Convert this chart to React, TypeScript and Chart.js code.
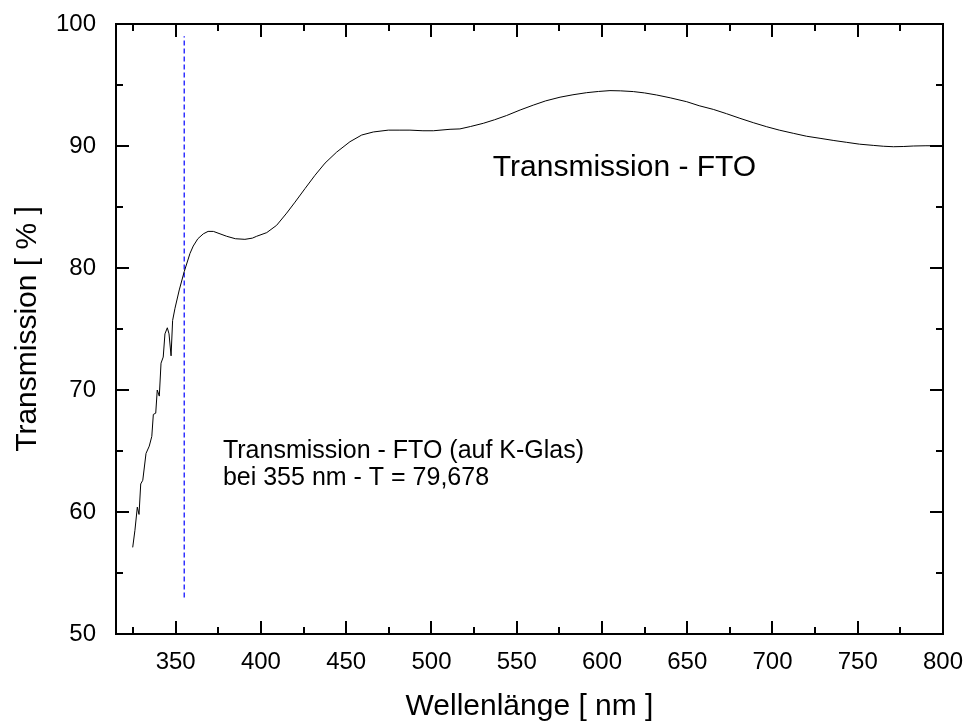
import React, { useEffect, useRef } from 'react';
import { Chart, registerables } from 'chart.js';

Chart.register(...registerables);

// ---- data ----
const wavelengths = [
  324.8, 326.1, 327.5, 328.5, 329.5, 330.7, 332.6, 334.5, 336.0, 336.9,
  338.3, 339.2, 340.4, 341.4, 342.7, 343.7, 345.1, 346.1, 347.3, 348.2,
  349.6, 352.1, 355.0, 358.4, 360.3, 363.0, 366.2, 369.0, 372.1, 376.0,
  379.9, 385.0, 390.6, 395.0, 397.5, 403.4, 409.2, 415.1, 420.0, 425.8,
  431.7, 437.6, 444.4, 452.2, 459.1, 465.9, 474.7, 481.5, 487.4, 495.0,
  501.1, 510.9, 516.7, 523.0, 530.4, 537.0, 544.1, 552.0, 559.7, 567.0,
  575.4, 583.0, 591.0, 598.0, 604.7, 611.0, 618.4, 625.0, 632.1, 640.0,
  649.7, 657.0, 665.3, 673.0, 680.9, 689.0, 696.6, 704.0, 712.2, 720.0,
  727.9, 736.0, 743.5, 751.0, 759.1, 765.0, 770.9, 777.0, 782.6, 790.0,
  798.4, 800.0,
];
const transmission = [
  57.1, 58.5, 60.4, 59.8, 62.3, 62.6, 64.8, 65.4, 66.2, 68.0,
  68.1, 70.0, 69.5, 72.2, 72.7, 74.6, 75.1, 74.6, 72.8, 75.7,
  76.7, 78.2, 79.7, 81.2, 81.8, 82.4, 82.8, 83.0, 83.0, 82.8,
  82.6, 82.4, 82.35, 82.45, 82.6, 82.9, 83.5, 84.5, 85.4, 86.5,
  87.6, 88.6, 89.5, 90.35, 90.9, 91.15, 91.3, 91.3, 91.3, 91.25,
  91.25, 91.37, 91.4, 91.6, 91.86, 92.15, 92.5, 92.95, 93.35, 93.7,
  94.0, 94.2, 94.37, 94.47, 94.54, 94.52, 94.46, 94.35, 94.18, 93.95,
  93.63, 93.3, 93.0, 92.65, 92.27, 91.9, 91.58, 91.3, 91.04, 90.8,
  90.63, 90.45, 90.3, 90.15, 90.05, 89.98, 89.94, 89.96, 90.0, 90.02,
  90.02, 90.0,
];
const markerWavelength = 355;
const markerFrom = 53;
const markerTo = 99;

const xMin = 315;
const xMax = 800;
const yMin = 50;
const yMax = 100;
const xTickValues = [325, 350, 375, 400, 425, 450, 475, 500, 525, 550, 575, 600, 625, 650, 675, 700, 725, 750, 775, 800];
const xLabelValues = [350, 400, 450, 500, 550, 600, 650, 700, 750, 800];
const yTickValues = [50, 55, 60, 65, 70, 75, 80, 85, 90, 95, 100];
const yLabelValues = [50, 60, 70, 80, 90, 100];

const xTitle = 'Wellenlänge [ nm ]';
const yTitle = 'Transmission [ % ]';
const curveLabel = 'Transmission - FTO';
const noteLines = ['Transmission - FTO (auf K-Glas)', 'bei 355 nm - T = 79,678'];

const FONT = '"Liberation Sans", Arial, Helvetica, sans-serif';

const framePlugin = {
  id: 'frameTicks',
  afterDatasetsDraw(chart: any) {
    const { ctx, chartArea: a } = chart;
    const x = chart.scales.x;
    const y = chart.scales.y;
    ctx.save();
    ctx.strokeStyle = '#000';
    ctx.lineWidth = 2;
    ctx.strokeRect(a.left, a.top, a.right - a.left, a.bottom - a.top);
    ctx.beginPath();
    for (const v of xTickValues) {
      const px = Math.round(x.getPixelForValue(v));
      const len = xLabelValues.includes(v) ? 13 : 7;
      ctx.moveTo(px, a.bottom);
      ctx.lineTo(px, a.bottom - len);
      ctx.moveTo(px, a.top);
      ctx.lineTo(px, a.top + len);
    }
    for (const v of yTickValues) {
      const py = Math.round(y.getPixelForValue(v));
      const len = yLabelValues.includes(v) ? 13 : 7;
      ctx.moveTo(a.left, py);
      ctx.lineTo(a.left + len, py);
      ctx.moveTo(a.right, py);
      ctx.lineTo(a.right - len, py);
    }
    ctx.stroke();

    ctx.fillStyle = '#000';
    ctx.textAlign = 'left';
    ctx.textBaseline = 'alphabetic';
    ctx.font = `30px ${FONT}`;
    ctx.fillText(curveLabel, x.getPixelForValue(536), y.getPixelForValue(87.55));
    ctx.font = `25px ${FONT}`;
    const noteY = [64.4, 62.2];
    noteLines.forEach((t, i) => {
      ctx.fillText(t, x.getPixelForValue(377.7), y.getPixelForValue(noteY[i]));
    });
    ctx.restore();
  },
};

export default function App() {
  const ref = useRef<HTMLCanvasElement | null>(null);

  useEffect(() => {
    if (!ref.current) return;
    const curve = wavelengths.map((w, i) => ({ x: w, y: transmission[i] }));
    const marker = [
      { x: markerWavelength, y: markerFrom },
      { x: markerWavelength, y: markerTo },
    ];
    const chart = new Chart(ref.current, {
      type: 'line',
      data: {
        datasets: [
          {
            data: curve,
            borderColor: '#000',
            borderWidth: 1,
            pointRadius: 0,
            tension: 0,
          },
          {
            data: marker,
            borderColor: '#0000ff',
            borderWidth: 1.2,
            borderDash: [5, 3],
            pointRadius: 0,
          },
        ],
      },
      options: {
        animation: false,
        responsive: true,
        maintainAspectRatio: false,
        layout: { padding: { top: 24, right: 22, left: 0, bottom: 0 } },
        plugins: { legend: { display: false }, tooltip: { enabled: false } },
        scales: {
          x: {
            type: 'linear',
            min: xMin,
            max: xMax,
            afterBuildTicks: (s: any) => {
              s.ticks = xTickValues.map((v) => ({ value: v }));
            },
            afterFit: (s: any) => {
              s.height = 88;
              s.paddingLeft = 0;
              s.paddingRight = 0;
            },
            grid: { display: false },
            border: { display: false },
            ticks: {
              autoSkip: false,
              maxRotation: 0,
              padding: 6,
              color: '#000',
              font: { family: FONT, size: 24 },
              callback: (v: any) => (xLabelValues.includes(Number(v)) ? String(v) : ''),
            },
            title: {
              display: true,
              text: xTitle,
              color: '#000',
              font: { family: FONT, size: 30, lineHeight: 1 },
              padding: 0,
            },
          },
          y: {
            type: 'linear',
            min: yMin,
            max: yMax,
            afterBuildTicks: (s: any) => {
              s.ticks = yTickValues.map((v) => ({ value: v }));
            },
            afterFit: (s: any) => {
              s.width = 116;
              s.paddingTop = 0;
              s.paddingBottom = 0;
            },
            grid: { display: false },
            border: { display: false },
            ticks: {
              autoSkip: false,
              padding: 12,
              color: '#000',
              font: { family: FONT, size: 24 },
              callback: (v: any) => (yLabelValues.includes(Number(v)) ? String(v) : ''),
            },
            title: {
              display: true,
              text: yTitle,
              color: '#000',
              font: { family: FONT, size: 30, lineHeight: 1 },
              padding: { top: 13, bottom: 0 },
            },
          },
        },
      },
      plugins: [framePlugin],
    });
    return () => chart.destroy();
  }, []);

  return (
    <div style={{ position: 'absolute', left: 0, top: 0, width: 965, height: 722, background: '#fff' }}>
      <canvas ref={ref} />
    </div>
  );
}
